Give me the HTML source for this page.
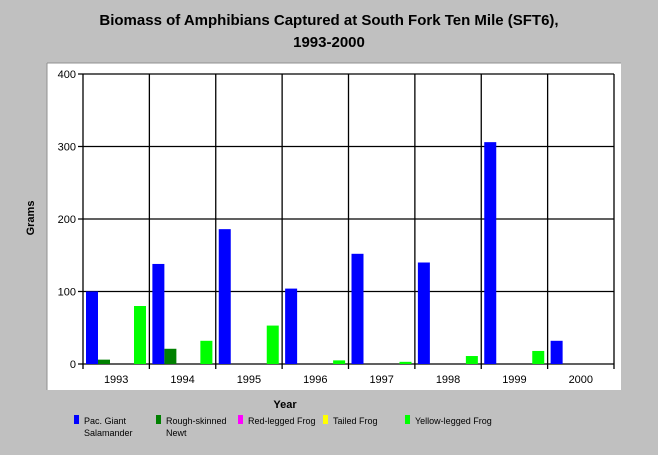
<!DOCTYPE html>
<html><head><meta charset="utf-8"><style>
body{margin:0;background:#c0c0c0;}
svg{display:block;font-family:"Liberation Sans",sans-serif;}
</style></head><body>
<svg id="c" width="658" height="455">
<rect x="0" y="0" width="658" height="455" fill="#c0c0c0"/>
<rect x="47" y="63" width="574" height="327" fill="#fff"/>
<line x1="47" y1="63" x2="621" y2="63" stroke="#909090"/>
<line x1="47" y1="63" x2="47" y2="390" stroke="#909090"/>
<text x="329" y="25" text-anchor="middle" font-size="15" font-weight="bold">Biomass of Amphibians Captured at South Fork Ten Mile (SFT6),</text>
<text x="329" y="47" text-anchor="middle" font-size="15" font-weight="bold">1993-2000</text>
<text transform="translate(34,218) rotate(-90)" text-anchor="middle" font-size="11" font-weight="bold">Grams</text>
<text x="285" y="408" text-anchor="middle" font-size="11" font-weight="bold">Year</text>
<g id="grid"></g><g id="bars"></g><g id="axes"></g><g id="legend"></g>
</svg>
<script>
const categories=["1993","1994","1995","1996","1997","1998","1999","2000"];
const seriesNames=["Pac. Giant|Salamander","Rough-skinned|Newt","Red-legged Frog","Tailed Frog","Yellow-legged Frog"];
const seriesColors=["#0000ff","#008000","#ff00ff","#ffff00","#00ff00"];
const pacGiant=[100,138,186,104,152,140,306,32];
const roughNewt=[6,21,0,0,0,0,0,0];
const redLegged=[0,0,0,0,0,0,0,0];
const tailedFrog=[0,0,0,0,0,0,0,0];
const yellowLegged=[80,32,53,5,3,11,18,0];
const yTicks=[0,100,200,300,400];
const series=[pacGiant,roughNewt,redLegged,tailedFrog,yellowLegged];
const L=83,R=614,T=74,B=364,yMax=400;
const cw=(R-L)/categories.length;
const y=v=>B-(v/yMax)*(B-T);
const xc=i=>L+i*cw;
const NS="http://www.w3.org/2000/svg";
function mk(tag,attrs,parent){const e=document.createElementNS(NS,tag);for(const k in attrs)e.setAttribute(k,attrs[k]);parent.appendChild(e);return e;}
const grid=document.getElementById('grid'),bars=document.getElementById('bars'),axes=document.getElementById('axes'),legend=document.getElementById('legend');
yTicks.forEach(t=>{
 const l=mk('line',{x1:L-5,x2:R,y1:y(t),y2:y(t),stroke:'#000','stroke-width':1.3},grid);
 
 
 const tx=mk('text',{x:L-7,y:y(t)+4,'text-anchor':'end','font-size':11},axes);
 tx.textContent=t;
 
 
});
for(let i=0;i<=categories.length;i++){
 const l=mk('line',{x1:xc(i),x2:xc(i),y1:T,y2:B+5,stroke:'#000','stroke-width':1.3},grid);
 
 
}
categories.forEach((c,i)=>{
 const tx=mk('text',{x:xc(i)+cw/2,y:B+19,'text-anchor':'middle','font-size':11},axes);
 tx.textContent=c;
 
 
 series.forEach((s,j)=>{
  if(s[i]<=0)return;
  const r=mk('rect',{x:xc(i)+3+j*12,y:y(s[i]),width:12,height:B-y(s[i]),fill:seriesColors[j]},bars);
  
  
 });
});
const lx=[74,156,238,323,405];
seriesNames.forEach((n,j)=>{
 const sw=mk('rect',{x:lx[j],y:415,width:5,height:9,fill:seriesColors[j]},legend);
 
 
 n.split('|').forEach((p,k)=>{
  const t=mk('text',{x:lx[j]+10,y:424+k*12,'font-size':9},legend);
  t.textContent=p;
  
  
 });
});
</script>
</body></html>
